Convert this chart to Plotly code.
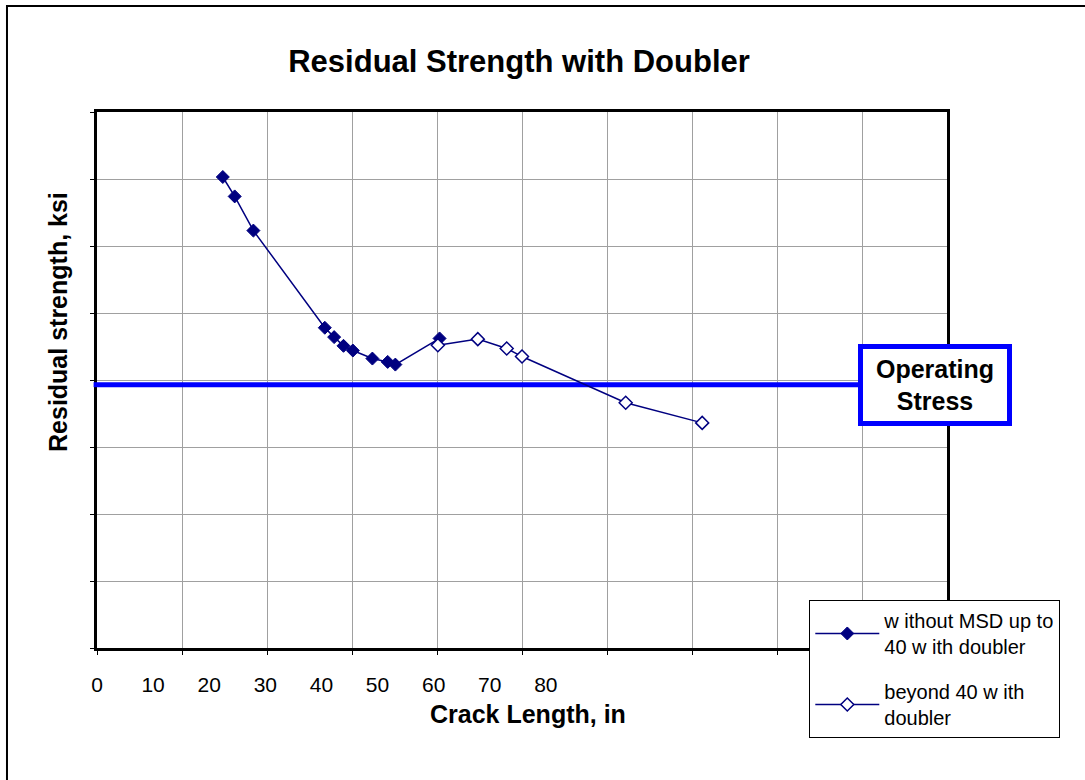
import plotly.graph_objects as go

# Crack length (in) and residual strength (ksi) for each configuration
crack_no_msd = [14.8, 16.2, 18.4, 26.8, 27.9, 29.0, 30.1, 32.4, 34.2, 35.1, 40.3]
strength_no_msd = [70.3, 67.4, 62.3, 47.8, 46.4, 45.1, 44.4, 43.2, 42.7, 42.3, 46.2]

crack_beyond = [40.1, 44.8, 48.2, 50.0, 62.2, 71.2]
strength_beyond = [45.2, 46.1, 44.7, 43.5, 36.6, 33.6]

operating_stress = 39.3

# Labels printed along the bottom axis
label_ticks = [0, 10, 20, 30, 40, 50, 60, 70, 80]

FONT = "Liberation Sans, Arial, sans-serif"
NAVY = "#000080"
BLUE = "#0000FF"

fig = go.Figure()

# Operating stress level
fig.add_trace(go.Scatter(
    x=[0, 100], y=[operating_stress, operating_stress],
    mode="lines", line=dict(color=BLUE, width=5),
    showlegend=False, hoverinfo="skip",
))

fig.add_trace(go.Scatter(
    x=crack_no_msd, y=strength_no_msd,
    mode="lines+markers",
    name="w ithout MSD up to<br>40 w ith doubler",
    legendgroup="a",
    line=dict(color=NAVY, width=1.5),
    marker=dict(symbol="diamond", size=10, color=NAVY,
                line=dict(color=NAVY, width=1)),
))

fig.add_trace(go.Scatter(
    x=crack_beyond, y=strength_beyond,
    mode="lines+markers",
    name="beyond 40 w ith<br>doubler",
    legendgroup="b",
    line=dict(color=NAVY, width=1.5),
    marker=dict(symbol="diamond", size=10, color="white",
                line=dict(color=NAVY, width=1.5)),
))

# Carrier trace for the label axis
fig.add_trace(go.Scatter(
    x=[label_ticks[0], label_ticks[-1]], y=[None, None],
    xaxis="x2", mode="lines", showlegend=False, hoverinfo="skip",
))

fig.update_layout(
    width=1085, height=780,
    margin=dict(l=97, r=138, t=112, b=132),
    paper_bgcolor="white", plot_bgcolor="white",
    font=dict(family=FONT, color="black", size=20),
    title=dict(
        text="Residual Strength with Doubler",
        font=dict(family=FONT, size=31, weight="bold", color="black"),
        x=0.4965, xanchor="center", xref="paper",
        y=1 - 61 / 780, yanchor="middle", yref="container",
    ),
    xaxis=dict(
        range=[0, 100], dtick=10, showticklabels=False,
        showgrid=True, gridcolor="#a0a0a0", gridwidth=1,
        ticks="outside", ticklen=4, tickcolor="black",
        showline=True, linecolor="black", linewidth=3, mirror=True,
        zeroline=False,
    ),
    xaxis2=dict(
        overlaying="x", side="bottom", anchor="y",
        range=[0, 151.5], tickvals=label_ticks,
        showgrid=False, showline=False, zeroline=False, ticks="",
        tickfont=dict(family=FONT, size=21, color="black"),
        ticklabelstandoff=22,
    ),
    yaxis=dict(
        range=[0, 80], dtick=10, showticklabels=False,
        showgrid=True, gridcolor="#a0a0a0", gridwidth=1,
        ticks="outside", ticklen=4, tickcolor="black",
        showline=True, linecolor="black", linewidth=3, mirror=True,
        zeroline=False,
    ),
    legend=dict(
        x=0.838, y=0.0896, xanchor="left", yanchor="top",
        bgcolor="white", bordercolor="black", borderwidth=1,
        font=dict(family=FONT, size=20, color="black"),
        itemwidth=64, tracegroupgap=16,
    ),
    showlegend=True,
)

fig.add_annotation(
    text="Crack Length, in", xref="paper", yref="paper",
    x=0.507, y=-(714 - 648) / 536, xanchor="center", yanchor="middle",
    showarrow=False, font=dict(family=FONT, size=25, weight="bold", color="black"),
)
fig.add_annotation(
    text="Residual strength, ksi", xref="paper", yref="paper",
    x=-0.0459, y=(648 - 322) / 536, xanchor="center", yanchor="middle",
    textangle=-90, showarrow=False,
    font=dict(family=FONT, size=25, weight="bold", color="black"),
)
fig.add_annotation(
    text="<b>Operating<br>Stress</b>", xref="paper", yref="y",
    x=0.986, y=operating_stress, xanchor="center", yanchor="middle",
    showarrow=False, font=dict(family=FONT, size=25, color="black"),
    bgcolor="white", bordercolor=BLUE, borderwidth=5, borderpad=3,
    width=138, height=66,
)

# Small overhang of the stress line past the left frame
fig.add_shape(type="line", xref="paper", yref="y",
              x0=-0.004, x1=0, y0=operating_stress, y1=operating_stress,
              line=dict(color=BLUE, width=5))

# Outer chart frame
fig.add_shape(type="rect", xref="paper", yref="paper",
              x0=-0.1059, x1=1.3, y0=-0.5, y1=(648 - 6) / 536,
              line=dict(color="black", width=2), layer="below")

fig.write_html("out.html")
